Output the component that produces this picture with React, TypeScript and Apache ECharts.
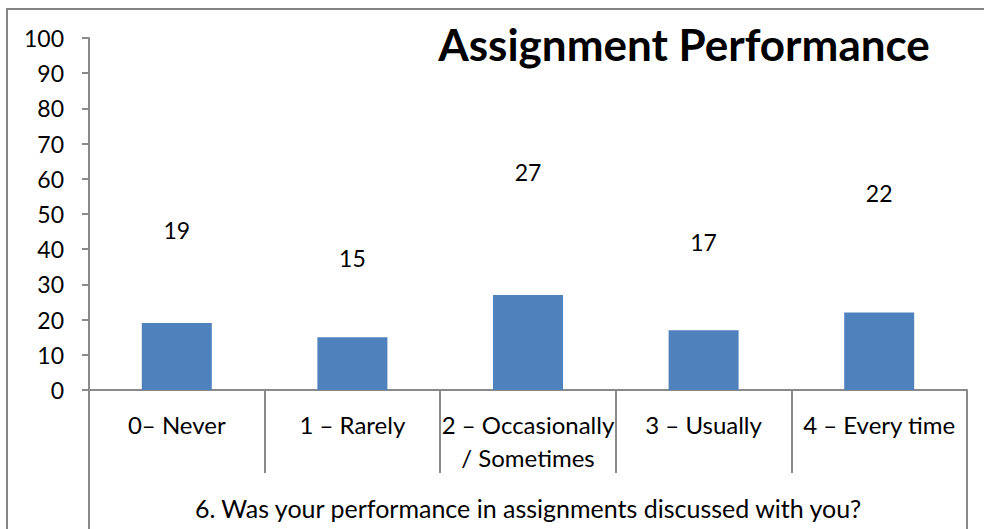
import React, { useEffect, useRef } from "react";
import * as echarts from "echarts";

const categories = [
  "0– Never",
  "1 – Rarely",
  "2 – Occasionally\n/ Sometimes",
  "3 – Usually",
  "4 – Every time",
];
const values = [19, 15, 27, 17, 22];
const groupLabel = ["6. Was your performance in assignments discussed with you?"];
const titleText = "Assignment Performance";
const yMin = 0;
const yMax = 100;
const yInterval = 10;
// label lift above each bar (style only)
const labelLifts = [77, 63, 106, 72, 103];

const FONT = "Lato, 'Noto Sans', sans-serif";
const AXIS_COLOR = "#8a8a8a";

export default function App() {
  const ref = useRef<HTMLDivElement>(null);
  useEffect(() => {
    document.body.style.margin = "0";
    const chart = echarts.init(ref.current!, null, { renderer: "svg" });
    chart.setOption({
      animation: false,
      backgroundColor: "#ffffff",
      textStyle: { fontFamily: FONT },
      title: {
        text: titleText,
        left: 679,
        top: 17,
        textAlign: "center",
        textStyle: { fontFamily: FONT, fontWeight: "bold", fontSize: 44, color: "#000" },
      },
      graphic: [
        {
          type: "rect",
          shape: { x: 7, y: 9, width: 1100, height: 700 },
          style: { fill: "none", stroke: "#858585", lineWidth: 2 },
          silent: true,
          z: -1,
        },
      ],
      grid: { left: 89, right: 17, top: 38, bottom: 139 },
      xAxis: [
        {
          type: "category",
          data: categories,
          position: "bottom",
          axisLine: { show: true, lineStyle: { color: AXIS_COLOR, width: 2 } },
          axisTick: { show: true, length: 83, alignWithLabel: false, lineStyle: { color: AXIS_COLOR, width: 2 } },
          axisLabel: {
            margin: 18,
            fontSize: 24,
            color: "#000",
            fontFamily: FONT,
            lineHeight: 33,
            interval: 0,
          },
        },
        {
          type: "category",
          data: groupLabel,
          position: "bottom",
          offset: 0,
          axisLine: { show: false },
          axisTick: { show: true, length: 140, alignWithLabel: false, lineStyle: { color: AXIS_COLOR, width: 2 } },
          axisLabel: { margin: 105, fontSize: 25, color: "#000", fontFamily: FONT },
        },
      ],
      yAxis: {
        type: "value",
        min: yMin,
        max: yMax,
        interval: yInterval,
        axisLine: { show: true, lineStyle: { color: AXIS_COLOR, width: 2 } },
        axisTick: { show: true, length: 7, inside: false, lineStyle: { color: AXIS_COLOR, width: 2 } },
        axisLabel: { margin: 25, fontSize: 23, color: "#000", fontFamily: FONT },
        splitLine: { show: false },
      },
      series: [
        {
          type: "bar",
          xAxisIndex: 0,
          barWidth: 70,
          itemStyle: { color: "#4F81BD" },
          data: values.map((v, i) => ({
            value: v,
            label: {
              show: true,
              position: "top",
              offset: [0, -labelLifts[i]],
              fontSize: 23,
              color: "#000",
              fontFamily: FONT,
            },
          })),
        },
      ],
    });
    return () => chart.dispose();
  }, []);
  return <div ref={ref} style={{ width: 984, height: 529 }} />;
}
